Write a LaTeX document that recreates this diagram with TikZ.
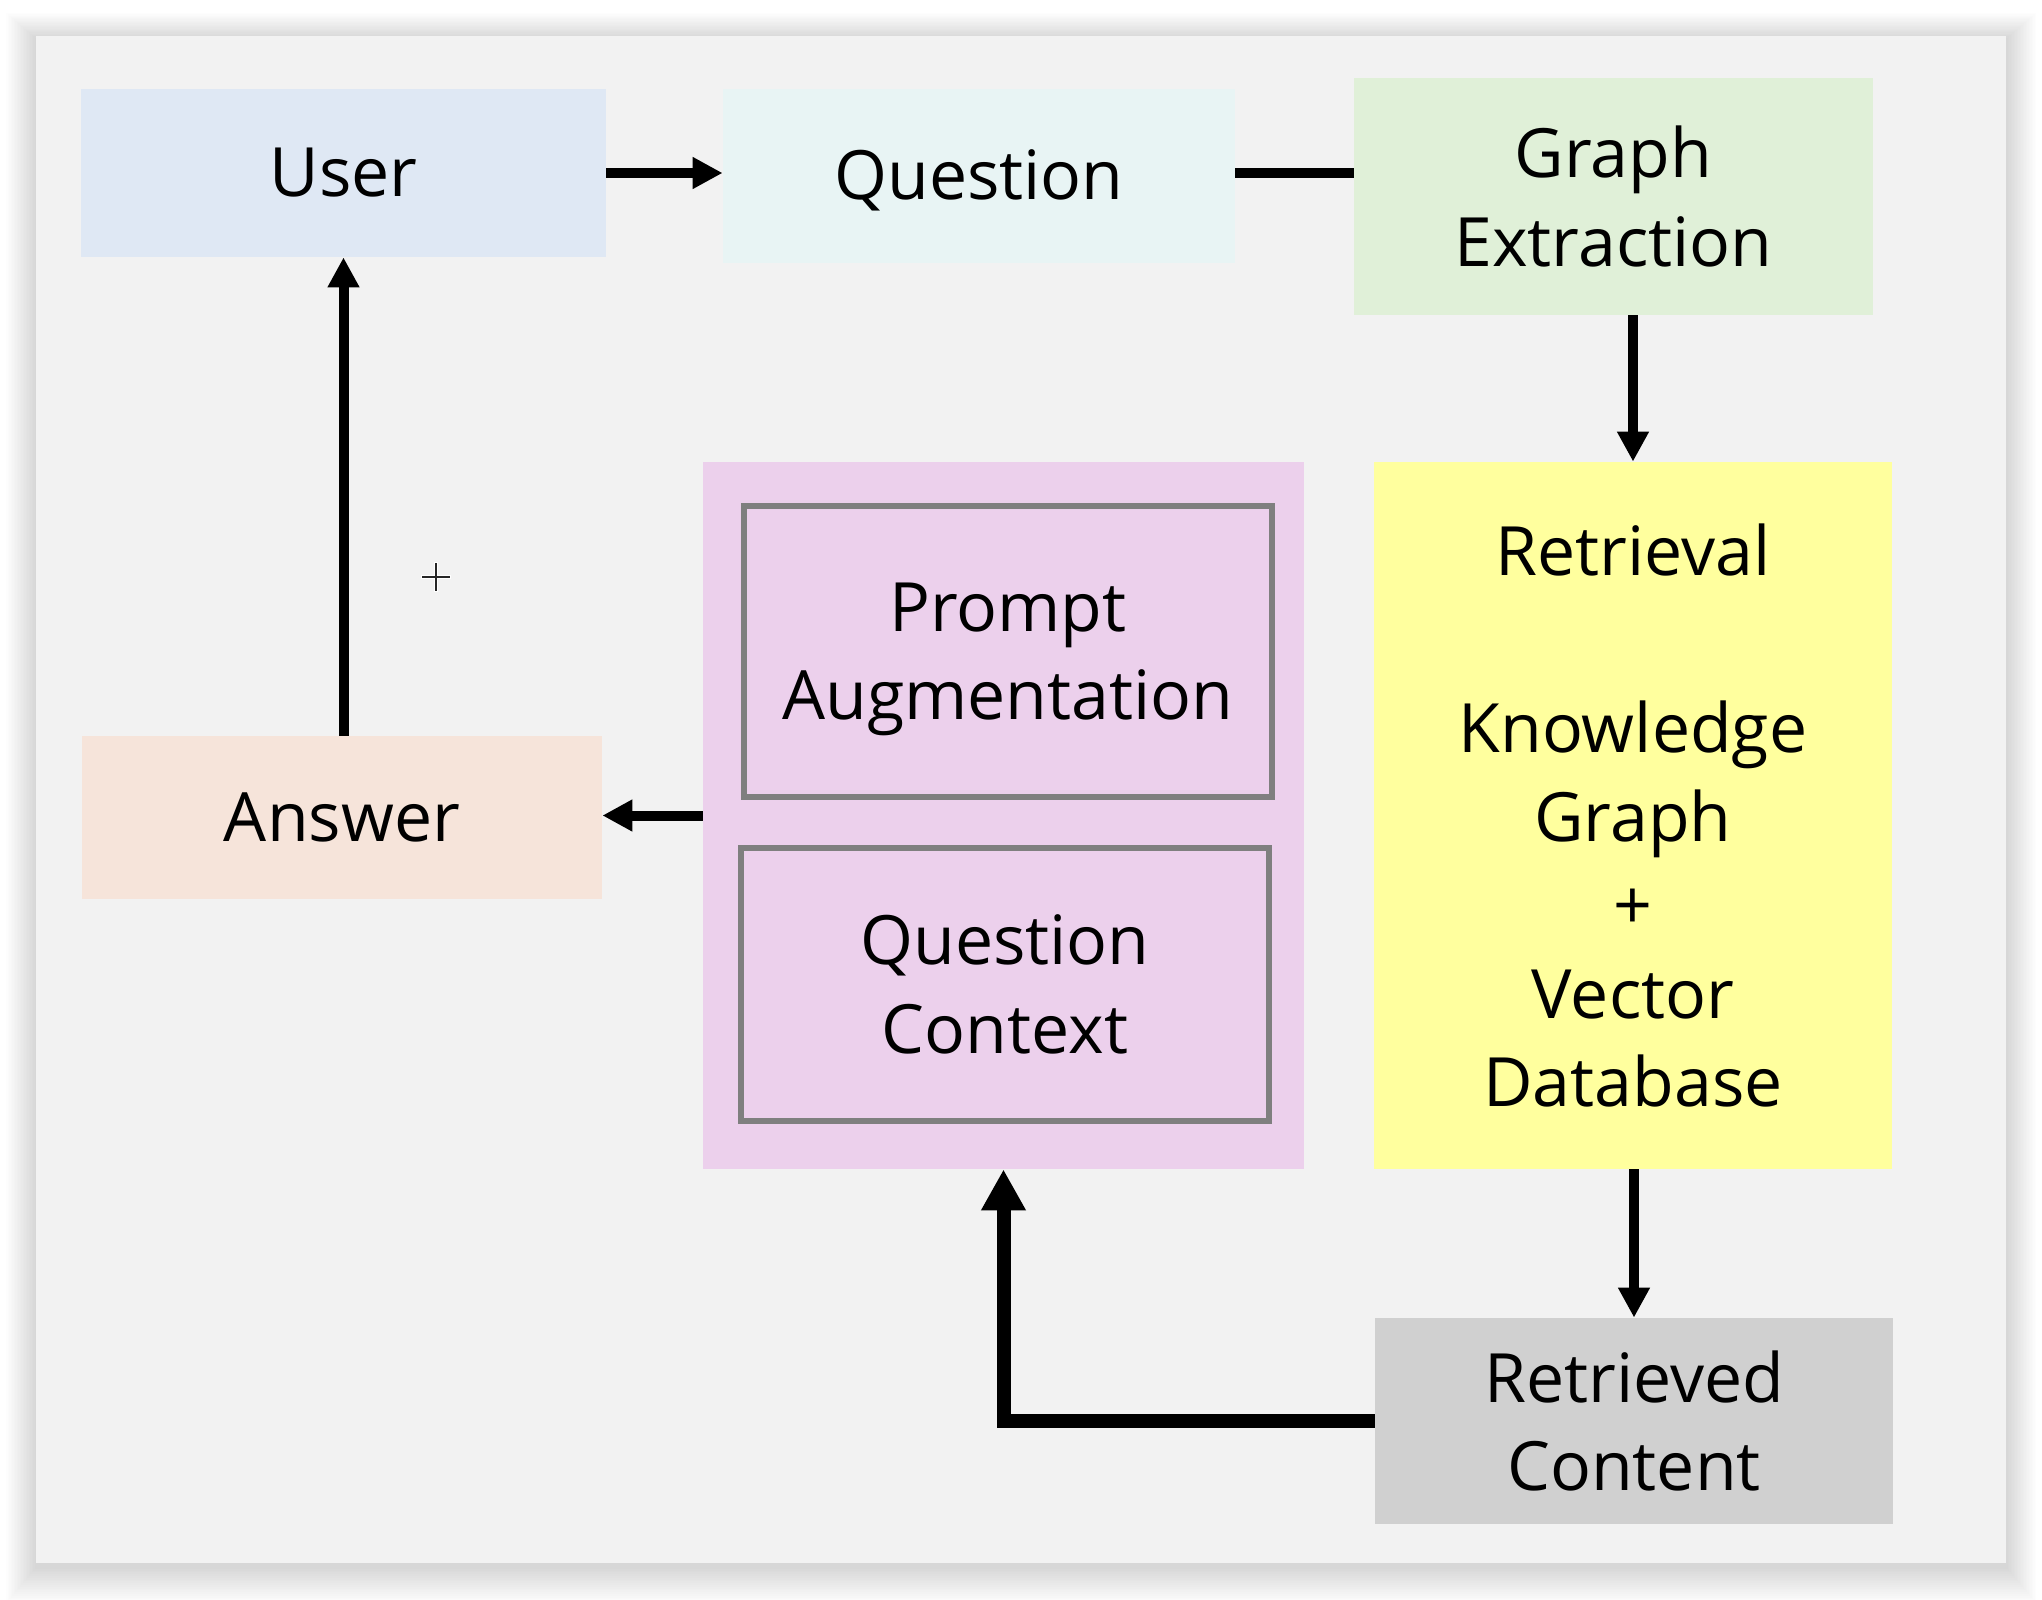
\documentclass[tikz,border=0pt]{standalone}
\usepackage{fontspec}
\setmainfont{Open Sans}
\usetikzlibrary{arrows.meta,calc}
\definecolor{panelbg}{HTML}{F2F2F2}
\definecolor{userc}{HTML}{DFE8F4}
\definecolor{questc}{HTML}{E8F4F4}
\definecolor{graphc}{HTML}{E0F0D8}
\definecolor{yellc}{HTML}{FFFF9E}
\definecolor{retc}{HTML}{D0D0D0}
\definecolor{purpc}{HTML}{ECD0EC}
\definecolor{innerc}{HTML}{7F7F7F}
\definecolor{ansc}{HTML}{F6E4DA}
\begin{document}
\begin{tikzpicture}[x=0.5pt,y=-0.5pt,
  box/.style={draw=none, inner sep=0pt, align=center, anchor=center,
    font=\fontsize{34}{44.3}\selectfont, text=black},
  innerbox/.style={box, draw=innerc, line width=3.3pt},
  conn/.style={line width=5pt, -{Triangle[length=15pt,width=15pt]}},
  plainconn/.style={line width=5pt},
  thickconn/.style={line width=7pt, line join=miter, -{Triangle[length=20.5pt,width=21pt]}}
]
\useasboundingbox (0,0) rectangle (2042,1600);
\fill[white] (0,0) rectangle (2042,1600);
% soft shadow
\foreach \i in {1,...,20}
  \fill[black,opacity=0.009] (36-\i*1.5, 36-\i*1.3+3) rectangle (2006+\i*1.5, 1563+\i*1.8+4);
\fill[panelbg] (36,36) rectangle (2006,1563);

% nodes
\node[box, fill=userc, minimum width=262.5pt, minimum height=84pt] (user) at (343.5,173) {User};
\node[box, fill=questc, minimum width=256pt, minimum height=87pt] (question) at (979,176) {\rule{0pt}{29.5pt}Question};
\node[box, fill=graphc, minimum width=259.5pt, minimum height=118.5pt] (graph) at (1613.5,196.5) {Graph\\Extraction};
\node[box, fill=yellc, minimum width=259pt, minimum height=353.5pt] (retrieval) at (1633,815.5)
  {Retrieval\\[44.3pt]Knowledge\\Graph\\+\\Vector\\Database};
\node[box, fill=retc, minimum width=259pt, minimum height=103pt] (retrieved) at (1634,1421) {Retrieved\\Content};
\node[box, fill=purpc, minimum width=300.5pt, minimum height=353.5pt] (purple) at (1003.5,815.5) {};
\node[innerbox, minimum width=264pt, minimum height=145.5pt] (prompt) at (1008,651.5) {\rule{0pt}{32pt}Prompt\\Augmentation};
\node[innerbox, minimum width=264pt, minimum height=136.5pt] (qctx) at (1005,984.5) {Question\\Context};
\node[box, fill=ansc, minimum width=260pt, minimum height=81.5pt] (answer) at (342,817.5) {Answer};

% connectors
\draw[conn] (user.east) -- (user.east -| question.west);
\draw[plainconn] (question.east |- user.east) -- (graph.west |- user.east);
\draw[conn] (graph.south -| retrieval.north) -- (retrieval.north);
\draw[conn] (retrieval.south -| retrieved.north) -- (retrieved.north);
\draw[thickconn] (retrieved.west) -| (purple.south);
\draw[conn] (purple.west) -- (purple.west -| answer.east);
\draw[conn] (answer.north -| user.south) -- (user.south);

% cursor mark
\draw[white, line width=1.8pt] (421,577) -- (451,577) (436,562) -- (436,592);
\draw[black!85, line width=0.7pt] (422,577) -- (450,577) (436,563) -- (436,591);
\end{tikzpicture}
\end{document}
